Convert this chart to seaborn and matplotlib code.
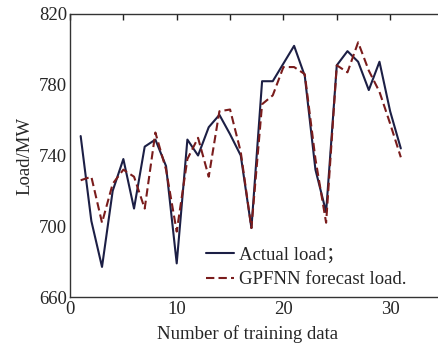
import matplotlib
matplotlib.use("Agg")
import matplotlib.pyplot as plt
import seaborn as sns
import pandas as pd
from matplotlib.ticker import MultipleLocator, FixedLocator

x_idx = list(range(1, 32))
actual_load = [751, 703, 677, 720, 738, 710, 745, 749, 734, 679,
               749, 740, 756, 763, 752, 740, 699, 782, 782, 792,
               802, 785, 732, 708, 791, 799, 793, 777, 793, 765, 744]
forecast_load = [726, 728, 702, 724, 732, 728, 710, 753, 732, 697,
                 738, 750, 728, 765, 766, 742, 699, 769, 774, 790,
                 790, 786, 738, 702, 791, 787, 804, 788, 776, 758, 739]
series_names = ["Actual load\uff1b", "GPFNN forecast load."]
y_major = [660, 700, 740, 780, 820]
y_minor = [680, 720, 760, 800]

df = pd.DataFrame({
    "x": x_idx * 2,
    "load": actual_load + forecast_load,
    "series": [series_names[0]] * len(x_idx) + [series_names[1]] * len(x_idx),
})

sns.set_style("white")
plt.rcParams["font.family"] = ["Liberation Serif", "Noto Sans CJK SC", "DejaVu Sans"]

fig = plt.figure(figsize=(4.39, 3.47), dpi=100)
ax = fig.add_axes([70 / 439, 1 - 297 / 347, (443.5 - 70) / 439, (297 - 14) / 347])

sns.lineplot(data=df, x="x", y="load", hue="series", style="series",
             palette={series_names[0]: "#1c1f45", series_names[1]: "#7a1c1c"},
             dashes={series_names[0]: "", series_names[1]: (4, 2)},
             linewidth=1.5, ax=ax)

ax.set_xlim(0, 35)
ax.set_ylim(660, 820)
ax.xaxis.set_major_locator(MultipleLocator(10))
ax.xaxis.set_minor_locator(MultipleLocator(5))
ax.yaxis.set_major_locator(FixedLocator(y_major))
ax.yaxis.set_minor_locator(FixedLocator(y_minor))
ax.tick_params(axis="both", which="both", direction="in", top=True, right=False,
               labelsize=13.5, color="#222222")
ax.tick_params(which="major", length=4, width=1)
ax.tick_params(which="minor", length=4, width=1)
ax.tick_params(axis="x", pad=3)
ax.tick_params(axis="y", pad=2)
for s in ["left", "bottom", "top"]:
    ax.spines[s].set_color("#333333")
    ax.spines[s].set_linewidth(1.0)
ax.spines["right"].set_visible(False)

ax.set_xlabel("Number of training data", fontsize=13.5)
ax.set_ylabel("Load/MW", fontsize=13.5)
ax.xaxis.set_label_coords((247.5 - 70) / (443.5 - 70), -0.10)

leg = ax.legend(loc="lower left", bbox_to_anchor=(0.345, 0.005), frameon=False,
                fontsize=13.5, handlelength=1.45, handletextpad=0.3,
                labelspacing=0.4, borderaxespad=0)
for h in leg.get_lines():
    h.set_linewidth(1.5)

fig.savefig("out.png", dpi=100)
